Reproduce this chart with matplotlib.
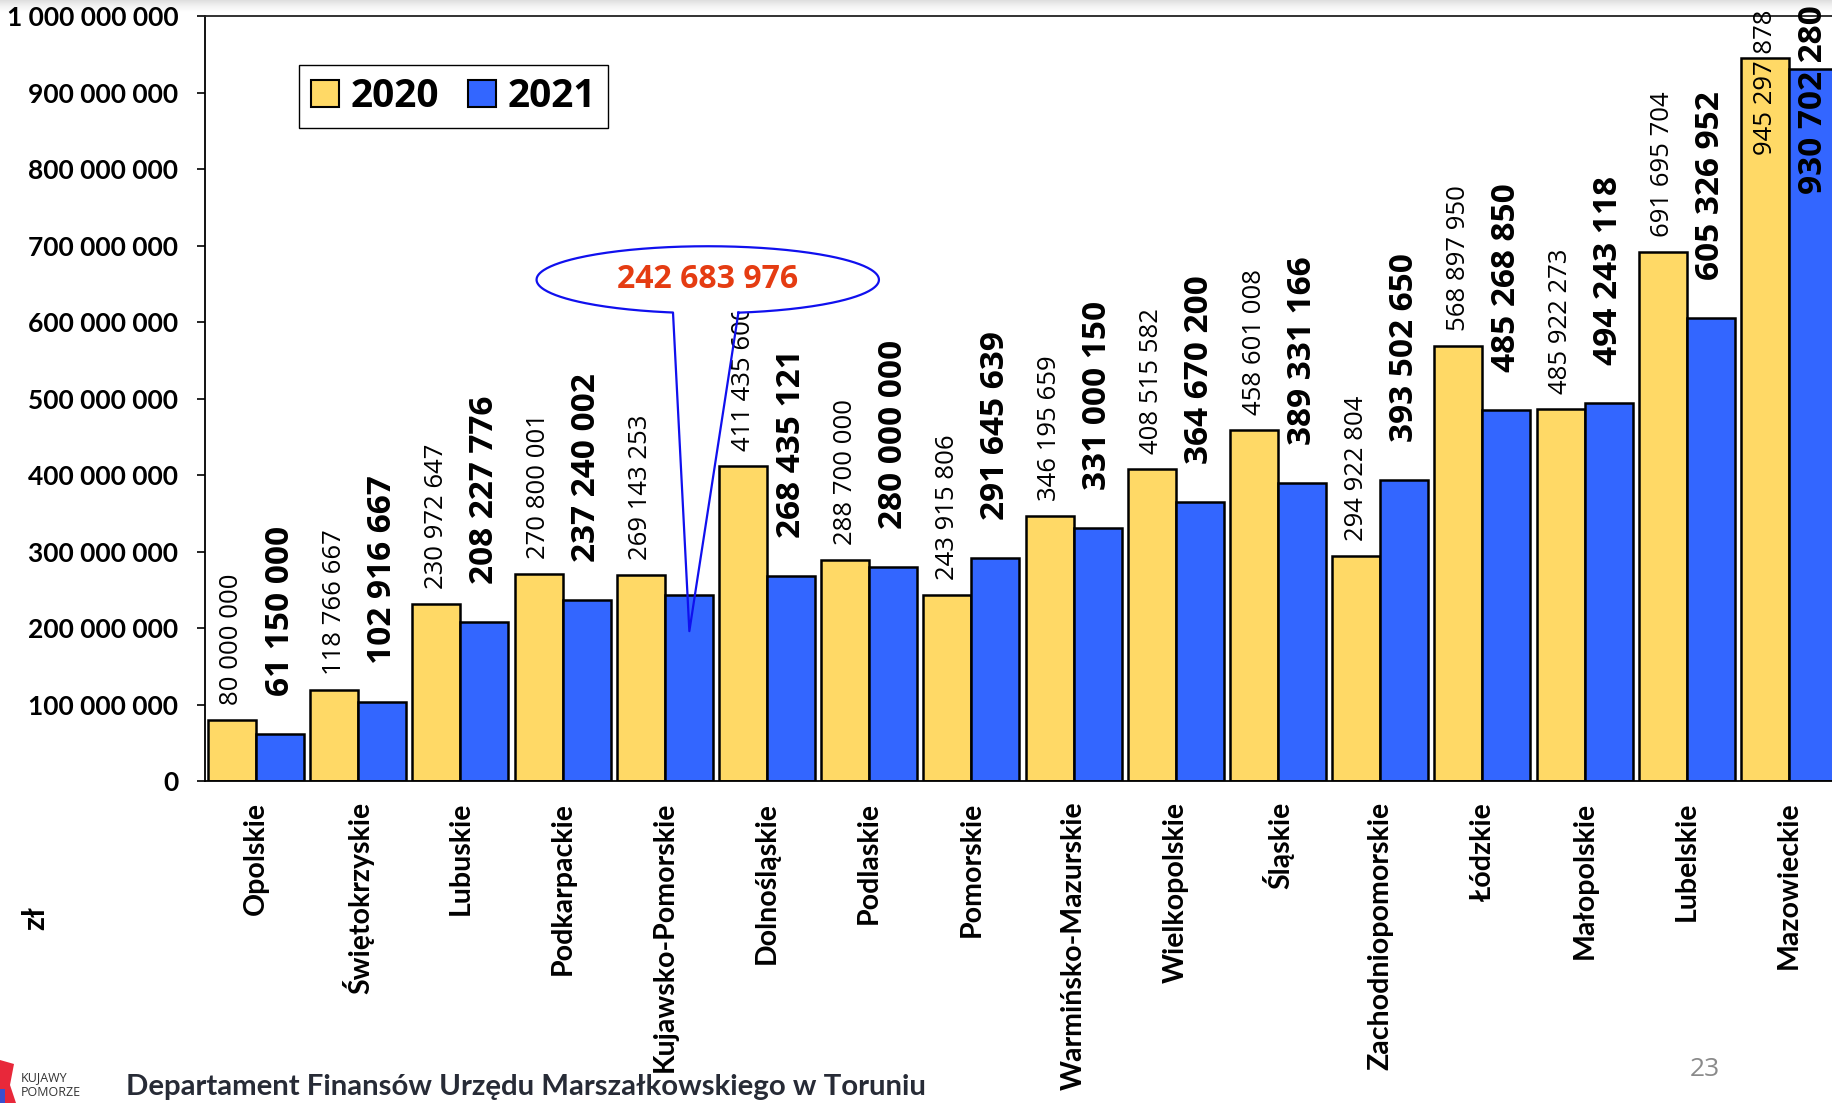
import matplotlib
matplotlib.use("Agg")
import matplotlib.pyplot as plt
import numpy as np
from matplotlib.patches import Patch, Ellipse, Polygon, Rectangle

regions = ["Opolskie", "Świętokrzyskie", "Lubuskie", "Podkarpackie",
           "Kujawsko-Pomorskie", "Dolnośląskie", "Podlaskie", "Pomorskie",
           "Warmińsko-Mazurskie", "Wielkopolskie", "Śląskie",
           "Zachodniopomorskie", "Łódzkie", "Małopolskie", "Lubelskie",
           "Mazowieckie"]
v2020 = [80000000, 118766667, 230972647, 270800001, 269143253, 411435600,
         288700000, 243915806, 346195659, 408515582, 458601008, 294922804,
         568897950, 485922273, 691695704, 945297878]
v2021 = [61150000, 102916667, 208227776, 237240002, 242683976, 268435121,
         280000000, 291645639, 331000150, 364670200, 389331166, 393502650,
         485268850, 494243118, 605326952, 930702280]
series_names = ["2020", "2021"]
y_ticks = [0, 100000000, 200000000, 300000000, 400000000, 500000000,
           600000000, 700000000, 800000000, 900000000, 1000000000]
callout_region = "Kujawsko-Pomorskie"
unit_label = "zł"
footer = "Departament Finansów Urzędu Marszałkowskiego w Toruniu"
page_no = "23"

YELLOW = "#FFD966"
BLUE = "#3366FF"
CAL = ["Lato", "DejaVu Sans"]
OS = ["Open Sans", "DejaVu Sans"]


def fmt(v):
    return f"{v:,}".replace(",", " ")


W, H = 1833, 1103
fig = plt.figure(figsize=(W / 100, H / 100), dpi=100)

# top grey shading strip
gax = fig.add_axes([0, 1 - 12 / H, 1, 12 / H])
grad = np.linspace(0, 1, 50).reshape(-1, 1)
gax.imshow(grad, aspect="auto", cmap="Greys_r", vmin=-3.5, vmax=1.0,
           extent=[0, 1, 0, 1])
gax.axis("off")

ax = fig.add_axes([204.6 / W, 1 - 781 / H, 1 - 204.6 / W, (781 - 16.4) / H])
x = np.arange(len(regions))
w = 0.47
ax.bar(x - w / 2, v2020, w, color=YELLOW, edgecolor="black", lw=1.8, zorder=2)
ax.bar(x + w / 2, v2021, w, color=BLUE, edgecolor="black", lw=1.8, zorder=2)
ax.set_xlim(-0.503, 15.43)
ax.set_ylim(0, 1e9)

ax.spines["right"].set_visible(False)
for s in ["left", "bottom", "top"]:
    ax.spines[s].set_linewidth(1.3)
ax.spines["top"].set_color("#222222")

ax.set_yticks(y_ticks)
ax.set_yticklabels([fmt(t) for t in y_ticks], family=CAL, fontweight="bold",
                   fontsize=19)
ax.tick_params(axis="y", direction="out", length=6, width=1.2, pad=13)
ax.set_xticks(x)
ax.set_xticklabels(regions, rotation=90, family=CAL, fontweight="bold",
                   fontsize=20.5, va="top", ha="center")
ax.tick_params(axis="x", length=0, pad=15)

# value labels
for i, (a, b) in enumerate(zip(v2020, v2021)):
    for val, xpos, bold, off, topoff in ((a, x[i] - w / 2, False, 15, 7),
                                         (b, x[i] + w / 2, True, 38, 11)):
        if bold and regions[i] == callout_region:
            continue
        kw = dict(rotation=90, ha="center", family=OS,
                  fontsize=24 if bold else 18.5,
                  fontweight="bold" if bold else "normal", zorder=3,
                  annotation_clip=False)
        t = ax.annotate(fmt(val), xy=(xpos, val), xytext=(0, off),
                        textcoords="offset pixels", va="bottom", **kw)
        fig.canvas.draw()
        bb = t.get_window_extent()
        if bb.y1 > H - 6:
            t.remove()
            ax.annotate(fmt(val), xy=(xpos, 1.0),
                        xycoords=("data", "axes fraction"),
                        xytext=(0, topoff), textcoords="offset pixels",
                        va="top", **kw)

# callout for Kujawsko-Pomorskie
ci = regions.index(callout_region)
cx, cy = 4.42, 655.6e6
ea, eb = 1.675, 43.8e6
ax.add_patch(Ellipse((cx, cy), 2 * ea, 2 * eb, facecolor="white",
                     edgecolor="none", zorder=5))
xl, xr = 4.08, 4.72
thr = -np.arccos((xr - cx) / ea)
thl = -np.arccos((xl - cx) / ea) + 2 * np.pi
tt = np.linspace(thr, thl, 300)
ex = cx + ea * np.cos(tt)
ey = cy + eb * np.sin(tt)
tip = (4.24, 196e6)
px = np.concatenate([ex, [tip[0], ex[0]]])
py = np.concatenate([ey, [tip[1], ey[0]]])
ax.plot(px, py, color="#1010EE", lw=1.6, zorder=6, clip_on=False)
ax.text(cx, cy, fmt(v2021[ci]), ha="center", va="center", color="#E53C12",
        family=OS, fontweight="bold", fontsize=23, zorder=7)

# legend
handles = [Patch(facecolor=YELLOW, edgecolor="black", lw=1.5),
           Patch(facecolor=BLUE, edgecolor="black", lw=1.5)]
leg = ax.legend(handles, series_names, loc="upper left",
                bbox_to_anchor=(0.058, 0.936), ncol=2, frameon=True,
                fancybox=False, edgecolor="black", framealpha=1,
                prop=dict(family=OS, weight="bold", size=28),
                handlelength=0.72, handleheight=0.72, handletextpad=0.3,
                columnspacing=0.75, borderpad=0.3, borderaxespad=0)
leg.get_frame().set_linewidth(1.0)
leg.set_zorder(8)

# unit label
fig.text(35 / W, 1 - 918 / H, unit_label, rotation=90, ha="center",
         va="center", family=CAL, fontweight="bold", fontsize=22)

# footer
fig.text(126 / W, 1 - 1087 / H, footer, ha="left", va="center", family=CAL,
         fontweight="bold", fontsize=21.2, color="#272B36")
fig.text(1705 / W, 1 - 1070 / H, page_no, ha="center", va="center",
         family=OS, fontsize=19, color="#8A8A8A")

# logo
fig.patches.append(Polygon([[0, 1 - 1060 / H], [14 / W, 1 - 1064 / H],
                            [10 / W, 1 - 1085 / H], [16 / W, 1 - 1103 / H],
                            [0, 1 - 1103 / H]], closed=True,
                           transform=fig.transFigure, facecolor="#E8283A",
                           edgecolor="none"))
fig.patches.append(Rectangle((0, 0), 5 / W, 14 / H, transform=fig.transFigure,
                             facecolor="#3A4FD0", edgecolor="none"))
fig.text(21 / W, 1 - 1078 / H, "KUJAWY", ha="left", va="center",
         family=OS, fontsize=9, color="#333333")
fig.text(21 / W, 1 - 1093 / H, "POMORZE", ha="left", va="center",
         family=OS, fontsize=9, color="#333333")

fig.savefig("out.png", dpi=100)
